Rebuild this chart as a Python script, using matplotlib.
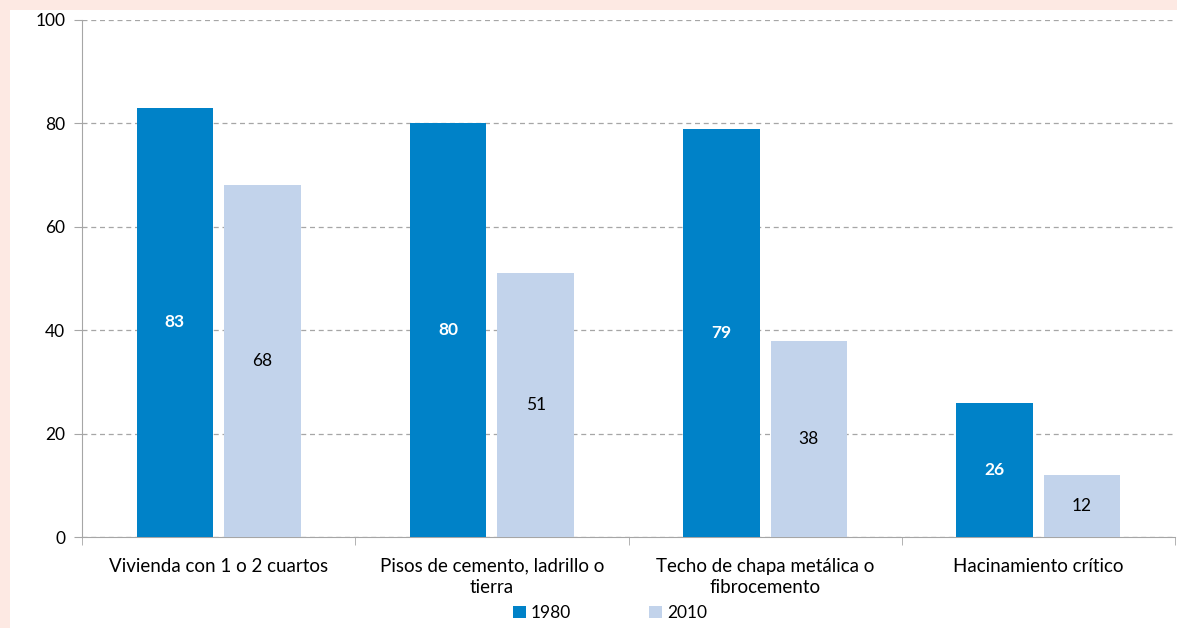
import numpy as np
import matplotlib.pyplot as plt
from matplotlib.patches import Rectangle

# Share of households (%) with each housing condition
categories = ['Vivienda con 1 o 2 cuartos', 'Pisos de cemento, ladrillo o\ntierra',
              'Techo de chapa metálica o\nfibrocemento', 'Hacinamiento crítico']
years = ['1980', '2010']
values_1980 = [83, 80, 79, 26]
values_2010 = [68, 51, 38, 12]

color_1980 = '#0082C8'
color_2010 = '#C2D3EB'
grey = '#A6A6A6'

plt.rcParams['font.family'] = ['Lato', 'DejaVu Sans']

fig = plt.figure(figsize=(11.77, 6.28), dpi=100, facecolor='#FDE9E3')
# white card sitting on the pink frame
fig.patches.append(Rectangle((10 / 1177, 0), 1, 1 - 10 / 628, transform=fig.transFigure,
                             facecolor='white', edgecolor='none', zorder=-1))

ax = fig.add_axes([82 / 1177, 1 - 537 / 628, (1175 - 82) / 1177, (537 - 20) / 628])
ax.set_facecolor('white')

x = np.arange(len(categories))
w = 0.28
off = 0.16
b1 = ax.bar(x - off, values_1980, w, color=color_1980, label=years[0], zorder=3)
b2 = ax.bar(x + off, values_2010, w, color=color_2010, label=years[1], zorder=3)

for rect, v in zip(b1, values_1980):
    ax.text(rect.get_x() + rect.get_width() / 2, v / 2, str(v), ha='center', va='center',
            color='white', fontsize=12.5, fontweight='bold', zorder=4)
for rect, v in zip(b2, values_2010):
    ax.text(rect.get_x() + rect.get_width() / 2, v / 2, str(v), ha='center', va='center',
            color='black', fontsize=12.5, zorder=4)

ax.set_xlim(-0.5, len(categories) - 0.5)
ax.set_ylim(0, 100)
ax.set_yticks(range(0, 101, 20))
ax.yaxis.grid(True, linestyle=(0, (4, 3)), color=grey, linewidth=0.9, zorder=0)
ax.set_axisbelow(True)

ax.set_xticks(x)
ax.set_xticklabels(categories, fontsize=13.5, linespacing=1.3)
ax.set_xticks(np.arange(-0.5, len(categories)), minor=True)
ax.tick_params(axis='x', which='major', length=0, pad=15)
ax.tick_params(axis='x', which='minor', length=6, color=grey, direction='out')
ax.tick_params(axis='y', length=6, color=grey, labelsize=12.5, pad=6)

for s in ['top', 'right']:
    ax.spines[s].set_visible(False)
for s in ['left', 'bottom']:
    ax.spines[s].set_color(grey)

fig.legend(handles=[b1, b2], labels=years, loc='center', ncol=2,
           bbox_to_anchor=(610 / 1177, 1 - 613 / 628), frameon=False, fontsize=12.5,
           handlelength=0.75, handleheight=0.75, handletextpad=0.3, columnspacing=4.5)

fig.savefig('out.png', dpi=100, facecolor=fig.get_facecolor())
